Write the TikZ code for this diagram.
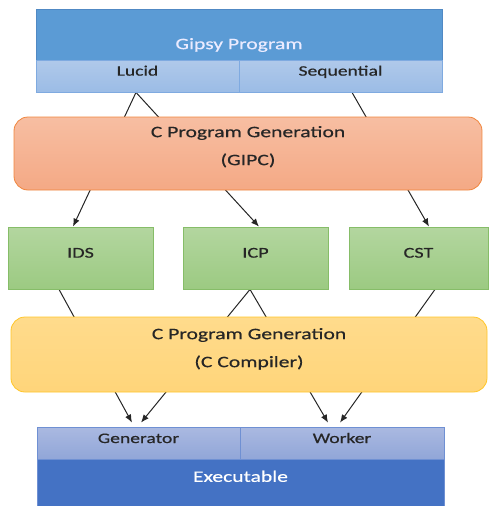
\documentclass[tikz,border=0pt]{standalone}
\usepackage{xcolor}
\usepackage{fontspec}
\setmainfont{Carlito}[FakeStretch=1.35,FakeBold=0.5]
\usepackage{tikz}
\usetikzlibrary{arrows.meta,backgrounds}

\definecolor{gipsyblue}{HTML}{5B9BD5}
\definecolor{gipsyline}{HTML}{5089C4}
\definecolor{celltop}{HTML}{B0C9EA}
\definecolor{cellbot}{HTML}{9BBCE6}
\definecolor{cellline}{HTML}{7FAAE0}
\definecolor{gipctop}{HTML}{F7BEA2}
\definecolor{gipcbot}{HTML}{F4A985}
\definecolor{gipcline}{HTML}{F0863E}
\definecolor{greentop}{HTML}{B3D69F}
\definecolor{greenbot}{HTML}{9CCA82}
\definecolor{greenline}{HTML}{86BD68}
\definecolor{yellowtop}{HTML}{FFDB8C}
\definecolor{yellowbot}{HTML}{FFD57A}
\definecolor{yellowline}{HTML}{FFC629}
\definecolor{exectop}{HTML}{AAB9E1}
\definecolor{execbot}{HTML}{91A6D8}
\definecolor{execline}{HTML}{6F90D3}
\definecolor{execblue}{HTML}{4472C4}

\begin{document}
\begin{tikzpicture}[x=1pt,y=-1pt,
  box/.style={rectangle,inner sep=0pt,line width=0.8pt,text=black!85},
  bigtxt/.style={font=\fontsize{16}{28}\selectfont},
  smalltxt/.style={font=\fontsize{14.5}{17}\selectfont},
  cell/.style={box,smalltxt,top color=celltop,bottom color=cellbot,draw=cellline},
  gipcbox/.style={box,bigtxt,rounded corners=14pt,top color=gipctop,bottom color=gipcbot,draw=gipcline,align=center},
  greenbox/.style={box,font=\fontsize{15}{18}\selectfont,top color=greentop,bottom color=greenbot,draw=greenline,
    minimum width=145pt,minimum height=62pt,text height=0pt,text depth=0.7pt},
  yellowbox/.style={box,bigtxt,rounded corners=14pt,top color=yellowtop,bottom color=yellowbot,draw=yellowline,align=center},
  execcell/.style={box,smalltxt,top color=exectop,bottom color=execbot,draw=execline},
  conn/.style={->,>={Latex[length=8pt,width=6.5pt]},line width=1pt,black!85}]
\useasboundingbox (0,0) rectangle (488,506);

%%the source program on top
\node[box,bigtxt,fill=gipsyblue,draw=gipsyline,text=white!92!blue,minimum width=406pt,minimum height=51pt,
  text height=29.3pt,text depth=0pt] (gipsy) at (239,34.5) {Gipsy Program};
\node[cell,minimum width=203pt,minimum height=32pt,text height=0pt,text depth=0.7pt] (lucid) at (137.5,76) {Lucid};
\node[cell,minimum width=203pt,minimum height=32pt,text height=0pt,text depth=0.7pt] (seq) at (340.5,76) {Sequential};

%%first generation step
\node[gipcbox,minimum width=468pt,minimum height=73pt] (gipc) at (248,153.5)
  {\rule{0pt}{13pt}C Program Generation\\(GIPC)\rule[-17.7pt]{0pt}{0pt}};

%%intermediate files
\node[greenbox] (ids) at (80.5,258) {IDS};
\node[greenbox] (icp) at (255.5,258) {ICP};
\node[greenbox,minimum width=139pt] (cst) at (418.5,258) {CST};

%%second generation step
\node[yellowbox,minimum width=476pt,minimum height=75pt] (ccomp) at (249,354.5)
  {\rule{0pt}{13pt}C Program Generation\\(C Compiler)\rule[-15.7pt]{0pt}{0pt}};

%%the executable
\node[box,bigtxt,fill=execblue,draw=execline,text=white,minimum width=407pt,minimum height=51pt,
  text height=0pt,text depth=5.3pt] (exec) at (240.5,484.5) {Executable};
\node[execcell,minimum width=203pt,minimum height=32pt,text height=0pt,text depth=0pt] (gen) at (138.5,443) {Generator};
\node[execcell,minimum width=204pt,minimum height=32pt,text height=0pt,text depth=0pt] (worker) at (342,443) {Worker};

%%now the arrows, behind the boxes
\begin{scope}[on background layer]
\draw[conn] ([xshift=-1.5pt]lucid.south) -- ([xshift=-7.5pt]ids.north);
\draw[conn] ([xshift=-1.5pt]lucid.south) -- ([xshift=3.5pt]icp.north);
\draw[conn] ([xshift=11.5pt]seq.south) -- ([xshift=10.5pt]cst.north);
\draw[conn] ([xshift=-21.5pt]ids.south) -- ([xshift=-6.5pt,yshift=4pt]gen.north);
\draw[conn] ([xshift=-5.5pt]icp.south) -- ([xshift=2.5pt,yshift=4pt]gen.north);
\draw[conn] ([xshift=-5.5pt]icp.south) -- ([xshift=-14pt,yshift=4pt]worker.north);
\draw[conn] ([xshift=16.5pt]cst.south) -- ([xshift=-2pt,yshift=4pt]worker.north);
\end{scope}
\end{tikzpicture}
\end{document}
